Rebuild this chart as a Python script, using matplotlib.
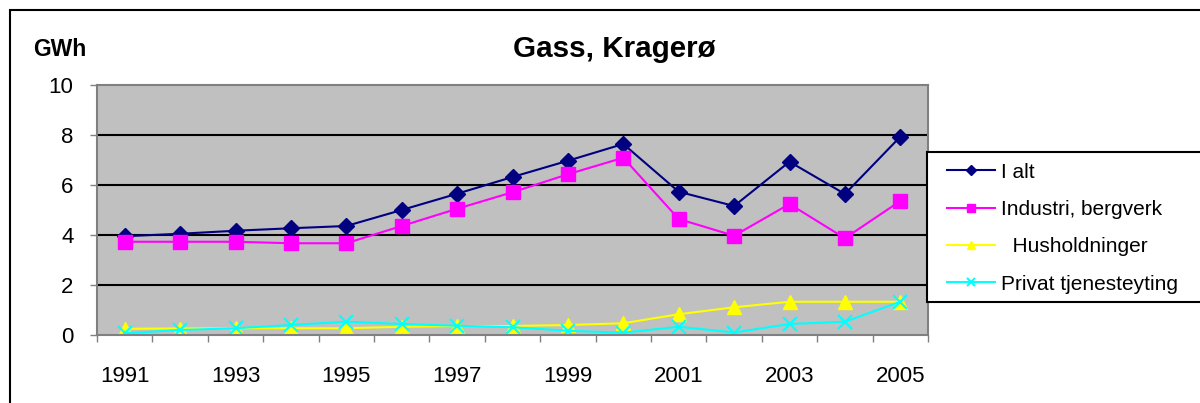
import numpy as np
import matplotlib.pyplot as plt
from matplotlib.patches import Rectangle

plt.rcParams['font.family'] = ['Liberation Sans', 'DejaVu Sans']

# data
years = list(range(1991, 2006))
ialt = [3.95, 4.05, 4.17, 4.27, 4.36, 5.0, 5.65, 6.32, 6.97, 7.64, 5.73, 5.16, 6.93, 5.64, 7.93]
industri = [3.73, 3.73, 3.73, 3.67, 3.67, 4.36, 5.05, 5.71, 6.43, 7.09, 4.64, 3.97, 5.24, 3.87, 5.36]
husholdninger = [0.25, 0.26, 0.27, 0.27, 0.27, 0.33, 0.36, 0.36, 0.40, 0.47, 0.83, 1.11, 1.33, 1.33, 1.33]
privat = [0.07, 0.2, 0.27, 0.4, 0.53, 0.44, 0.37, 0.31, 0.17, 0.09, 0.33, 0.1, 0.44, 0.53, 1.33]
labels = ['I alt', 'Industri, bergverk', '  Husholdninger', 'Privat tjenesteyting']

fig = plt.figure(figsize=(12, 4.03), dpi=100)
W, H = 1200, 403

# outer frame
fig.patches.append(Rectangle((10/W, -0.1), 1.2, 1 - 10/H + 0.1, transform=fig.transFigure,
                             fill=False, edgecolor='black', linewidth=1.5))

ax = fig.add_axes([97/W, 1 - 335/H, (928-97)/W, 250/H])
ax.set_facecolor('#C0C0C0')
x = np.arange(len(years))

ax.plot(x, ialt, color='#000080', marker='D', ms=8, lw=1.5, label=labels[0])
ax.plot(x, industri, color='#FF00FF', marker='s', ms=10, lw=1.5, label=labels[1])
ax.plot(x, husholdninger, color='#FFFF00', marker='^', ms=10, lw=1.5, label=labels[2])
ax.plot(x, privat, color='#00FFFF', marker='x', ms=10, mew=1.5, lw=1.5, label=labels[3])

ax.set_xlim(-0.5, len(years) - 0.5)
ax.set_ylim(0, 10)
ax.set_yticks([0, 2, 4, 6, 8, 10])
for v in [2, 4, 6, 8]:
    ax.axhline(v, color='black', lw=1.5, zorder=1)

ax.set_xticks(x[::2])
ax.set_xticklabels([str(y) for y in years[::2]])
ax.set_xticks(np.arange(-0.5, len(years)), minor=True)
ax.tick_params(axis='x', which='major', length=0, pad=22, labelsize=16)
ax.tick_params(axis='x', which='minor', length=5, color='#808080', width=1)
ax.tick_params(axis='y', length=5, color='#808080', width=1, labelsize=16, pad=12)
for s in ax.spines.values():
    s.set_color('#808080')
    s.set_linewidth(1.5)

fig.text(614/W, 1 - 49/H, 'Gass, Kragerø', ha='center', va='center', fontsize=21.3, fontweight='bold')
fig.text(60/W, 1 - 50/H, 'GWh', ha='center', va='center', fontsize=16.5, fontweight='bold')

# legend box
fig.patches.append(Rectangle((927/W, 1 - 302/H), 0.3, 150/H, transform=fig.transFigure,
                             fill=True, facecolor='white', edgecolor='black', linewidth=1.5))
handles, labs = ax.get_legend_handles_labels()
leg = fig.legend(handles, labs, loc='upper left', bbox_to_anchor=(928/W, 1 - 144/H),
                 frameon=False, fontsize=15, handlelength=2.3, labelspacing=0.88,
                 handletextpad=0.3, markerscale=0.6)

fig.savefig('out.png', dpi=100)
